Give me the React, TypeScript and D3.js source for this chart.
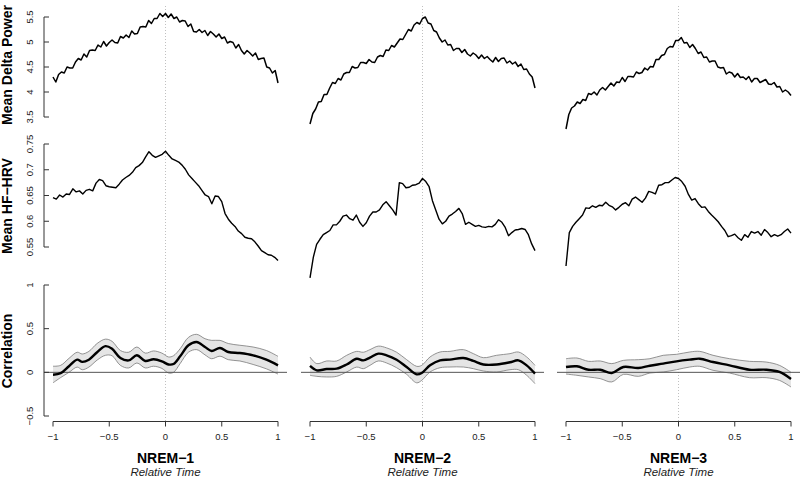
import React from "react";
import * as d3 from "d3";

// ---------- data ----------
const panels = ["NREM−1", "NREM−2", "NREM−3"];

// Mean delta power (81 samples, relative time -1..1)
const delta1 = [4.30,4.20,4.35,4.40,4.38,4.50,4.48,4.48,4.60,4.67,
  4.64,4.76,4.70,4.83,4.84,4.83,4.94,4.90,5.01,4.92,
  4.99,5.04,4.99,4.98,5.11,5.08,5.14,5.09,5.22,5.16,
  5.17,5.30,5.31,5.30,5.43,5.37,5.47,5.47,5.57,5.51,
  5.57,5.49,5.56,5.47,5.50,5.40,5.43,5.42,5.31,5.36,
  5.21,5.20,5.25,5.19,5.23,5.13,5.21,5.16,5.10,5.16,
  5.07,5.10,4.98,5.01,4.99,4.88,4.95,4.83,4.76,4.83,
  4.78,4.72,4.78,4.65,4.67,4.68,4.50,4.48,4.38,4.43,
  4.18];
const delta2 = [3.36,3.57,3.66,3.80,3.81,3.95,3.95,4.08,4.19,4.17,
  4.27,4.24,4.36,4.39,4.39,4.51,4.48,4.49,4.59,4.59,
  4.57,4.65,4.60,4.59,4.70,4.73,4.71,4.84,4.83,4.93,
  4.90,4.98,5.06,5.05,5.15,5.25,5.22,5.34,5.39,5.36,
  5.47,5.50,5.38,5.36,5.23,5.20,5.08,5.00,5.04,4.94,
  4.95,4.83,4.87,4.87,4.79,4.85,4.76,4.72,4.78,4.74,
  4.67,4.74,4.67,4.71,4.65,4.60,4.69,4.61,4.67,4.68,
  4.58,4.62,4.56,4.60,4.51,4.56,4.45,4.46,4.36,4.30,
  4.08];
const delta3 = [3.26,3.55,3.68,3.72,3.80,3.77,3.85,3.83,3.97,3.95,
  4.00,3.94,4.04,4.09,4.04,4.11,4.18,4.12,4.20,4.19,
  4.29,4.21,4.31,4.31,4.30,4.40,4.37,4.39,4.48,4.44,
  4.51,4.50,4.65,4.65,4.73,4.75,4.87,4.91,4.90,5.03,
  5.03,5.09,4.98,4.99,4.89,4.95,4.87,4.77,4.80,4.69,
  4.70,4.60,4.62,4.62,4.50,4.48,4.49,4.36,4.40,4.38,
  4.30,4.37,4.29,4.30,4.25,4.31,4.20,4.27,4.27,4.19,
  4.22,4.25,4.16,4.15,4.19,4.10,4.11,4.00,4.04,4.00,
  3.93];

// Mean HF-HRV (69 samples, relative time -1..1)
const hrv1 = [0.646,0.643,0.651,0.647,0.653,0.652,0.663,0.657,0.659,0.653,
  0.660,0.662,0.659,0.674,0.681,0.679,0.669,0.667,0.666,0.665,
  0.672,0.680,0.685,0.689,0.695,0.704,0.708,0.714,0.725,0.735,
  0.728,0.724,0.727,0.730,0.736,0.728,0.721,0.718,0.715,0.709,
  0.701,0.690,0.683,0.676,0.669,0.660,0.651,0.648,0.634,0.649,
  0.648,0.638,0.615,0.604,0.596,0.590,0.581,0.576,0.569,0.567,
  0.566,0.560,0.552,0.543,0.539,0.535,0.534,0.530,0.524];
const hrv2 = [0.490,0.530,0.555,0.565,0.574,0.578,0.582,0.593,0.593,0.600,
  0.610,0.612,0.605,0.602,0.612,0.598,0.590,0.597,0.610,0.618,
  0.618,0.622,0.632,0.638,0.630,0.622,0.612,0.675,0.673,0.665,
  0.666,0.670,0.671,0.674,0.683,0.677,0.667,0.640,0.622,0.604,
  0.595,0.600,0.610,0.614,0.619,0.625,0.615,0.594,0.598,0.594,
  0.590,0.592,0.589,0.588,0.590,0.589,0.594,0.603,0.598,0.588,
  0.572,0.578,0.583,0.584,0.586,0.584,0.574,0.556,0.543];
const hrv3 = [0.513,0.578,0.590,0.598,0.605,0.612,0.626,0.625,0.630,0.627,
  0.631,0.630,0.637,0.631,0.628,0.622,0.627,0.633,0.636,0.630,
  0.643,0.647,0.642,0.637,0.645,0.658,0.656,0.653,0.670,0.671,
  0.675,0.675,0.680,0.685,0.683,0.677,0.668,0.652,0.641,0.644,
  0.634,0.627,0.628,0.619,0.612,0.606,0.599,0.590,0.582,0.570,
  0.572,0.575,0.568,0.563,0.574,0.569,0.580,0.577,0.580,0.573,
  0.584,0.578,0.570,0.574,0.571,0.574,0.580,0.585,0.577];

// Correlation (time, mean, lower, upper)
const corrT1 = [-1,-0.932,-0.858,-0.785,-0.74,-0.681,-0.608,-0.534,-0.475,-0.401,-0.327,-0.254,-0.18,-0.106,-0.032,0.027,0.071,0.13,0.204,0.277,0.351,0.41,0.484,0.558,0.661,0.779,0.897,1];
const corrM1 = [-0.027,-0.01,0.07,0.145,0.12,0.145,0.23,0.30,0.27,0.164,0.137,0.195,0.13,0.149,0.126,0.09,0.095,0.183,0.31,0.347,0.29,0.244,0.279,0.233,0.221,0.195,0.145,0.08];
const corrU1 = [0.07,0.08,0.16,0.23,0.21,0.24,0.33,0.38,0.355,0.25,0.23,0.29,0.22,0.245,0.22,0.176,0.19,0.27,0.40,0.435,0.385,0.366,0.366,0.33,0.31,0.29,0.25,0.183];
const corrL1 = [-0.12,-0.06,0.0,0.06,0.03,0.06,0.14,0.195,0.19,0.08,0.05,0.107,0.05,0.07,0.045,-0.008,0.0,0.1,0.23,0.26,0.2,0.156,0.185,0.145,0.13,0.09,0.04,-0.02];

const corrT2 = [-1,-0.94,-0.852,-0.763,-0.674,-0.585,-0.526,-0.467,-0.393,-0.319,-0.23,-0.141,-0.052,-0.007,0.067,0.156,0.244,0.363,0.452,0.541,0.659,0.778,0.852,0.926,1];
const corrM2 = [0.073,0.023,0.038,0.042,0.09,0.156,0.137,0.168,0.214,0.195,0.145,0.061,-0.023,-0.008,0.08,0.137,0.145,0.164,0.13,0.09,0.09,0.115,0.137,0.08,-0.015];
const corrU2 = [0.175,0.10,0.13,0.13,0.195,0.24,0.23,0.26,0.30,0.28,0.23,0.145,0.069,0.08,0.176,0.233,0.24,0.26,0.214,0.168,0.195,0.214,0.233,0.176,0.08];
const corrL2 = [-0.034,-0.046,-0.053,-0.046,0.004,0.06,0.042,0.08,0.13,0.107,0.053,-0.023,-0.12,-0.092,0.004,0.053,0.061,0.061,0.042,0.015,0.004,0.03,0.03,-0.034,-0.13];

const corrT3 = [-1,-0.903,-0.8,-0.696,-0.593,-0.49,-0.357,-0.254,-0.136,-0.018,0.1,0.189,0.307,0.454,0.631,0.779,0.897,1];
const corrM3 = [0.061,0.069,0.03,0.03,-0.008,0.061,0.05,0.076,0.1,0.126,0.145,0.156,0.118,0.08,0.03,0.03,0.004,-0.076];
const corrU3 = [0.156,0.164,0.126,0.13,0.10,0.137,0.145,0.156,0.195,0.206,0.233,0.24,0.195,0.156,0.126,0.118,0.08,0.0];
const corrL3 = [-0.02,-0.034,-0.053,-0.072,-0.11,-0.023,-0.046,-0.008,0.004,0.03,0.061,0.069,0.023,-0.008,-0.061,-0.061,-0.092,-0.168];

const xTicks = [-1, -0.5, 0, 0.5, 1];
const xTickLabels = ["−1", "−0.5", "0", "0.5", "1"];
const deltaTicks = [3.5, 4, 4.5, 5, 5.5];
const deltaTickLabels = ["3.5", "4", "4.5", "5", "5.5"];
const hrvTicks = [0.55, 0.6, 0.65, 0.7, 0.75];
const hrvTickLabels = ["0.55", "0.6", "0.65", "0.7", "0.75"];
const corrTicks = [-0.5, 0, 0.5, 1];
const corrTickLabels = ["−0.5", "0", "0.5", "1"];
const rowTitles = ["Mean Delta Power", "Mean HF−HRV", "Correlation"];

// ---------- layout ----------
const W = 800, H = 478;
const FONT = "'Liberation Sans', Arial, Helvetica, sans-serif";
const colRanges: [number, number][] = [[44, 287], [301, 544], [557, 800]];
const yDelta = d3.scaleLinear().domain([3.5, 5.5]).range([117, 17]);
const yHrv = d3.scaleLinear().domain([0.55, 0.75]).range([247, 144]);
const yCorr = d3.scaleLinear().domain([-0.5, 1]).range([416, 285]);
const rowTitleY = [65, 206, 351];
const xAxisY = 421.5;

const grid = (arr: number[]) => arr.map((v, i) => ({ t: -1 + (2 * i) / (arr.length - 1), v }));

export default function App() {
  const deltas = [delta1, delta2, delta3];
  const hrvs = [hrv1, hrv2, hrv3];
  const corrs = [
    [corrT1, corrM1, corrL1, corrU1],
    [corrT2, corrM2, corrL2, corrU2],
    [corrT3, corrM3, corrL3, corrU3],
  ];

  return (
    <svg width={W} height={H} style={{ position: "absolute", left: 0, top: 0, background: "#fff" }}
      fontFamily={FONT}>
      <rect x={0} y={0} width={W} height={H} fill="#fff" />
      {panels.map((name, c) => {
        const x = d3.scaleLinear().domain([-1.08, 1.08]).range(colRanges[c]);
        const lineD = d3.line<{ t: number; v: number }>().x(d => x(d.t)).y(d => yDelta(d.v));
        const lineH = d3.line<{ t: number; v: number }>().x(d => x(d.t)).y(d => yHrv(d.v));
        const [ct, cm, cl, cu] = corrs[c];
        const cdata = ct.map((t, i) => ({ t, m: cm[i], l: cl[i], u: cu[i] }));
        const curve = d3.curveCatmullRom.alpha(0.5);
        const area = d3.area<any>().x(d => x(d.t)).y0(d => yCorr(d.l)).y1(d => yCorr(d.u)).curve(curve);
        const lineM = d3.line<any>().x(d => x(d.t)).y(d => yCorr(d.m)).curve(curve);
        const lineL = d3.line<any>().x(d => x(d.t)).y(d => yCorr(d.l)).curve(curve);
        const lineU = d3.line<any>().x(d => x(d.t)).y(d => yCorr(d.u)).curve(curve);
        const cx = (colRanges[c][0] + colRanges[c][1]) / 2;
        return (
          <g key={name}>
            <line x1={x(0)} x2={x(0)} y1={6} y2={421} stroke="#c0c0c0" strokeWidth={1} strokeDasharray="1,2" />
            <path d={lineD(grid(deltas[c])) || ""} fill="none" stroke="#000" strokeWidth={1.5} strokeLinejoin="round" />
            <path d={lineH(grid(hrvs[c])) || ""} fill="none" stroke="#000" strokeWidth={1.4} strokeLinejoin="round" />
            <path d={area(cdata) || ""} fill="#e5e5e5" stroke="none" />
            <path d={lineU(cdata) || ""} fill="none" stroke="#7a7a7a" strokeWidth={0.8} />
            <path d={lineL(cdata) || ""} fill="none" stroke="#7a7a7a" strokeWidth={0.8} />
            <line x1={colRanges[c][0]} x2={colRanges[c][1]} y1={yCorr(0)} y2={yCorr(0)} stroke="#555" strokeWidth={1} />
            <path d={lineM(cdata) || ""} fill="none" stroke="#000" strokeWidth={2.4} />
            <line x1={x(-1)} x2={x(1)} y1={xAxisY} y2={xAxisY} stroke="#333" strokeWidth={1} />
            {xTicks.map((t, i) => (
              <g key={t}>
                <line x1={x(t)} x2={x(t)} y1={xAxisY} y2={xAxisY + 5} stroke="#333" strokeWidth={1} />
                <text x={x(t)} y={440} fontSize={9.5} textAnchor="middle" fill="#222">{xTickLabels[i]}</text>
              </g>
            ))}
            <text x={cx} y={463} fontSize={14} fontWeight="bold" textAnchor="middle" fill="#000">{name}</text>
            <text x={cx} y={476} fontSize={11.5} fontStyle="italic" textAnchor="middle" fill="#222">Relative Time</text>
          </g>
        );
      })}
      {[
        [yDelta, deltaTicks, deltaTickLabels],
        [yHrv, hrvTicks, hrvTickLabels],
        [yCorr, corrTicks, corrTickLabels],
      ].map(([ys, ticks, labels]: any, r) => (
        <g key={r}>
          <line x1={44} x2={44} y1={ys(ticks[0])} y2={ys(ticks[ticks.length - 1])} stroke="#333" strokeWidth={1} />
          {ticks.map((t: number, i: number) => (
            <g key={t}>
              <line x1={44} x2={49} y1={ys(t)} y2={ys(t)} stroke="#333" strokeWidth={1} />
              <text transform={`translate(30,${ys(t)}) rotate(-90)`} dy="0.35em" fontSize={9.5} textAnchor="middle" fill="#222">{labels[i]}</text>
            </g>
          ))}
          <text transform={`translate(7,${rowTitleY[r]}) rotate(-90)`} dy="0.36em" fontSize={14} fontWeight="bold" textAnchor="middle" fill="#000">{rowTitles[r]}</text>
        </g>
      ))}
    </svg>
  );
}
